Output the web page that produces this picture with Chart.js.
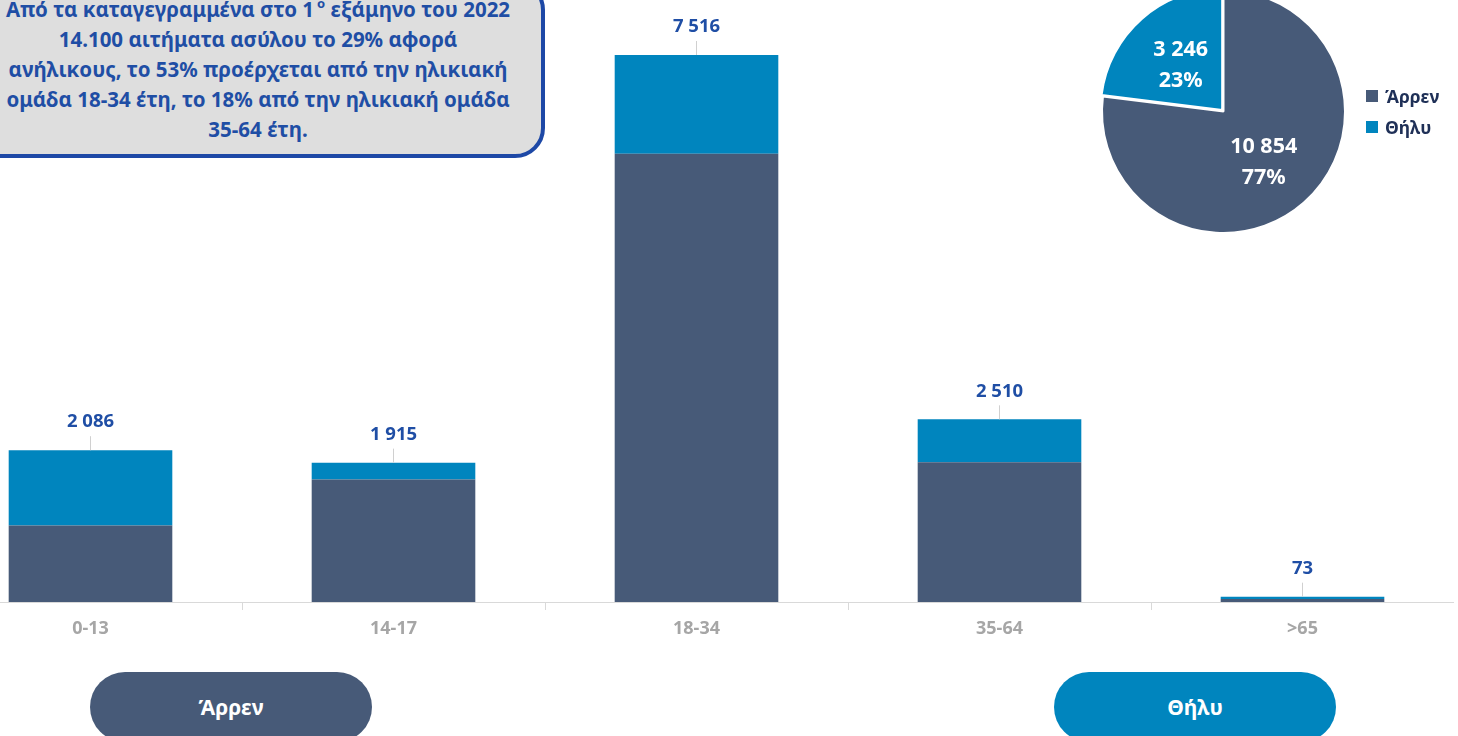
<!DOCTYPE html>
<html>
<head>
<meta charset="utf-8">
<script src="https://cdn.jsdelivr.net/npm/chart.js@4"></script>
<style>
  html, body { margin: 0; padding: 0; background: #fff; overflow: hidden; }
  body { width: 1458px; height: 736px; position: relative; font-family: "Noto Sans", sans-serif; }
  #barWrap { position: absolute; left: -61px; top: 0; width: 1515px; height: 660px; }
  #pieWrap { position: absolute; left: 1097px; top: -15px; width: 253px; height: 253px; }
  .note {
    position: absolute; left: -29px; top: -20px; width: 546px;
    padding: 10px 10px; border: 4px solid #1d48a6; border-radius: 30px;
    background: #dedede; color: #1f4ea5; font-weight: bold; font-size: 20.5px;
    line-height: 30px; text-align: center; box-sizing: content-box; white-space: nowrap;
  }
  .note sup { font-size: 13px; line-height: 0; vertical-align: 9px; margin-left: 3px; }
  .legend { position: absolute; left: 1366px; top: 80px; font-weight: bold; font-size: 17.5px; color: #1f3057; }
  .legend div { height: 31px; display: flex; align-items: center; }
  .legend i { display: inline-block; width: 12px; height: 12px; margin-right: 7px; }
  .pill {
    position: absolute; top: 672px; width: 282px; height: 70px; border-radius: 35px;
    color: #fff; font-weight: bold; font-size: 21px;
    display: flex; align-items: center; justify-content: center;
  }
</style>
</head>
<body>
<div id="barWrap"><canvas id="barCanvas"></canvas></div>
<div id="pieWrap"><canvas id="pieCanvas"></canvas></div>

<div class="note">Από τα καταγεγραμμένα στο 1<sup>ο</sup> εξάμηνο του 2022<br>14.100 αιτήματα ασύλου το 29% αφορά<br>ανήλικους, το 53% προέρχεται από την ηλικιακή<br>ομάδα 18-34 έτη, το 18% από την ηλικιακή ομάδα<br>35-64 έτη.</div>

<div class="legend" id="legend"></div>
<div class="pill" id="pillMale" style="left:90px;"></div>
<div class="pill" id="pillFemale" style="left:1054px;"></div>

<script>
const ageGroups = ["0-13", "14-17", "18-34", "35-64", ">65"];
const maleCounts = [1050, 1683, 6159, 1921, 41];
const femaleCounts = [1036, 232, 1357, 589, 32];

const sexLabels = ["Άρρεν", "Θήλυ"];
const sexTotals = [10854, 3246];

const maleColor = "#475a78";
const femaleColor = "#0085be";

function fmt(n) {
  return String(n).replace(/\B(?=(\d{3})+(?!\d))/g, " ");
}

// legend + pills
const legendEl = document.getElementById("legend");
[maleColor, femaleColor].forEach((c, i) => {
  legendEl.innerHTML += '<div><i style="background:' + c + '"></i>' + sexLabels[i] + "</div>";
});
document.getElementById("pillMale").textContent = sexLabels[0];
document.getElementById("pillMale").style.background = maleColor;
document.getElementById("pillFemale").textContent = sexLabels[1];
document.getElementById("pillFemale").style.background = femaleColor;

// totals above stacked bars
const totalsPlugin = {
  id: "totals",
  afterDatasetsDraw(chart) {
    const ctx = chart.ctx;
    const top = chart.getDatasetMeta(1).data;
    ctx.save();
    top.forEach((bar, i) => {
      const total = maleCounts[i] + femaleCounts[i];
      ctx.strokeStyle = "#d0d0d0";
      ctx.lineWidth = 1;
      ctx.beginPath();
      ctx.moveTo(bar.x, bar.y - 14);
      ctx.lineTo(bar.x, bar.y);
      ctx.stroke();
      ctx.fillStyle = "#1f4ea5";
      ctx.font = "bold 18.5px 'Noto Sans'";
      ctx.textAlign = "center";
      ctx.textBaseline = "middle";
      ctx.fillText(fmt(total), bar.x, bar.y - 28);
    });
    ctx.restore();
  },
};

new Chart(document.getElementById("barCanvas"), {
  type: "bar",
  data: {
    labels: ageGroups,
    datasets: [
      { label: sexLabels[0], data: maleCounts, backgroundColor: maleColor },
      { label: sexLabels[1], data: femaleCounts, backgroundColor: femaleColor },
    ],
  },
  options: {
    responsive: true,
    maintainAspectRatio: false,
    animation: false,
    layout: { padding: 0 },
    categoryPercentage: 1,
    barPercentage: 0.54,
    plugins: { legend: { display: false }, tooltip: { enabled: false } },
    scales: {
      x: {
        stacked: true,
        afterFit(scale) { scale.height = 58; },
        grid: { drawOnChartArea: false, tickLength: 8, color: "#d9d9d9" },
        border: { color: "#d9d9d9" },
        ticks: { color: "#a6a6a6", font: { family: "Noto Sans", size: 18, weight: "bold" }, padding: 8 },
      },
      y: { stacked: true, display: false, min: 0, max: 8272 },
    },
  },
  plugins: [totalsPlugin],
});

// labels inside pie slices
const pieLabelPlugin = {
  id: "pieLabels",
  afterDatasetsDraw(chart) {
    const ctx = chart.ctx;
    const sum = sexTotals.reduce((a, b) => a + b, 0);
    const shift = [5, 2.5];
    ctx.save();
    ctx.fillStyle = "#fff";
    ctx.font = "bold 21.5px 'Noto Sans'";
    ctx.textAlign = "center";
    ctx.textBaseline = "middle";
    chart.getDatasetMeta(0).data.forEach((arc, i) => {
      const p = arc.tooltipPosition();
      const y = p.y + shift[i];
      ctx.fillText(fmt(sexTotals[i]), p.x, y - 15.5);
      ctx.fillText(Math.round(sexTotals[i] / sum * 100) + "%", p.x, y + 15.5);
    });
    ctx.restore();
  },
};

new Chart(document.getElementById("pieCanvas"), {
  type: "pie",
  data: {
    labels: sexLabels,
    datasets: [{
      data: sexTotals,
      backgroundColor: [maleColor, femaleColor],
      borderColor: "#fff",
      borderWidth: 2,
      offset: [0, 8],
    }],
  },
  options: {
    responsive: true,
    maintainAspectRatio: false,
    animation: false,
    layout: { padding: 0 },
    plugins: { legend: { display: false }, tooltip: { enabled: false } },
  },
  plugins: [pieLabelPlugin],
});
</script>
</body>
</html>
